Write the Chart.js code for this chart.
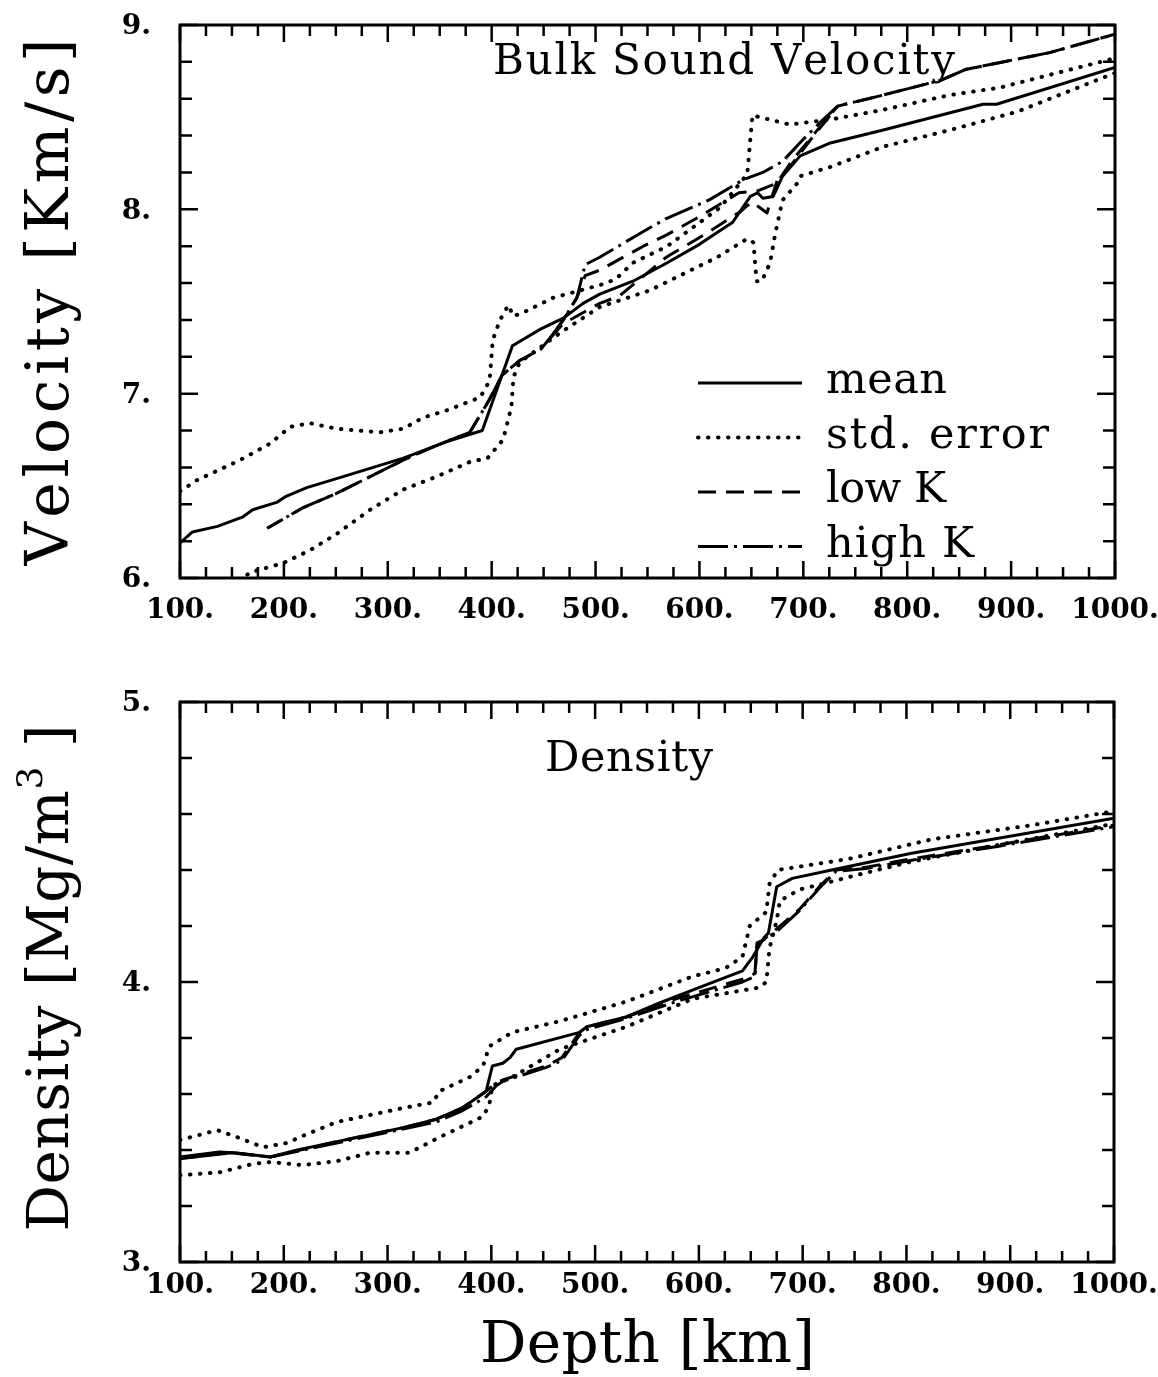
<!DOCTYPE html>
<html>
<head>
<meta charset="utf-8">
<script src="https://cdn.jsdelivr.net/npm/chart.js@4.4.1/dist/chart.umd.min.js"></script>
<style>
  html, body { margin: 0; padding: 0; background: #fff; }
  #page { position: relative; width: 1158px; height: 1377px; background: #fff; }
  .box { position: absolute; left: 0; width: 1158px; }
</style>
</head>
<body>
<div id="page">
  <div class="box" style="top:0;height:650px"><canvas id="velChart"></canvas></div>
  <div class="box" style="top:650px;height:727px"><canvas id="denChart"></canvas></div>
</div>
<script>
// ---- axis ticks ----
const depthTicks = [100, 200, 300, 400, 500, 600, 700, 800, 900, 1000];
const velTicks = [6, 7, 8, 9];
const denTicks = [3, 4, 5];
const depthMinor = 25;
const velMinor = 0.2;
const denMinor = 0.2;

// ---- bulk sound velocity [depth km, Km/s] ----
const velMean = [[100,6.19],[112,6.25],[136,6.28],[160,6.33],[170,6.37],[193,6.41],[201,6.44],[222,6.49],[257,6.55],[286,6.60],[315,6.65],[357,6.74],[391,6.80],[420,7.26],[447,7.35],[469,7.41],[488,7.49],[504,7.54],[536,7.61],[569,7.71],[600,7.81],[632,7.93],[649,8.07],[656,8.09],[661,8.06],[671,8.07],[680,8.18],[697,8.29],[726,8.36],[777,8.43],[873,8.57],[886,8.57],[1000,8.77]];
const velStdHi = [[100,6.47],[116,6.53],[158,6.64],[187,6.73],[206,6.82],[225,6.84],[251,6.81],[292,6.79],[315,6.81],[334,6.87],[357,6.91],[389,6.98],[398,7.07],[401,7.29],[408,7.40],[416,7.48],[421,7.42],[434,7.45],[459,7.52],[511,7.60],[521,7.63],[536,7.71],[569,7.80],[620,8.01],[646,8.19],[651,8.51],[658,8.50],[687,8.46],[729,8.49],[777,8.54],[841,8.62],[889,8.66],[1000,8.82]];
const velStdLo = [[158,5.98],[167,6.03],[199,6.08],[225,6.15],[251,6.24],[283,6.37],[315,6.48],[347,6.55],[379,6.63],[396,6.65],[411,6.75],[419,6.93],[421,7.09],[427,7.17],[466,7.33],[504,7.47],[552,7.56],[617,7.74],[646,7.84],[652,7.82],[655,7.61],[660,7.61],[668,7.71],[673,7.87],[680,8.05],[694,8.14],[697,8.18],[726,8.23],[777,8.34],[841,8.43],[906,8.53],[1000,8.74]];
const velLowK = [[184,6.27],[218,6.38],[251,6.46],[283,6.55],[315,6.64],[347,6.72],[379,6.79],[398,6.97],[410,7.10],[427,7.18],[447,7.24],[456,7.30],[469,7.40],[482,7.52],[490,7.64],[504,7.67],[546,7.80],[568,7.86],[600,7.96],[638,8.09],[656,8.10],[674,8.14],[690,8.27],[712,8.42],[733,8.56],[777,8.62],[832,8.70],[857,8.76],[937,8.85],[1000,8.95]];
const velHighK = [[184,6.27],[218,6.38],[251,6.46],[283,6.55],[315,6.64],[347,6.72],[379,6.79],[398,6.97],[410,7.10],[427,7.18],[447,7.24],[456,7.30],[469,7.40],[482,7.52],[490,7.70],[504,7.74],[546,7.88],[568,7.95],[609,8.05],[642,8.16],[661,8.20],[680,8.26],[700,8.38],[716,8.47],[733,8.56],[777,8.62],[832,8.70],[857,8.76],[937,8.85],[1000,8.95]];
const velLowKb = [[456,7.30],[469,7.38],[504,7.49],[523,7.53],[568,7.74],[607,7.87],[640,7.99],[650,8.04],[658,8.01],[665,7.98],[675,8.16],[687,8.23],[710,8.40],[733,8.56]];

// ---- density [depth km, Mg/m^3] ----
const denMean = [[100,3.375],[138,3.393],[155,3.389],[187,3.375],[213,3.40],[251,3.43],[290,3.46],[315,3.48],[347,3.51],[372,3.55],[395,3.61],[401,3.70],[411,3.71],[418,3.73],[424,3.76],[485,3.82],[492,3.84],[530,3.875],[562,3.925],[600,3.98],[642,4.04],[652,4.09],[663,4.16],[667,4.175],[675,4.34],[690,4.37],[728,4.40],[805,4.46],[1000,4.585]];
const denStdHi = [[100,3.436],[136,3.471],[155,3.446],[180,3.41],[203,3.425],[218,3.45],[251,3.50],[283,3.525],[315,3.55],[344,3.57],[350,3.61],[379,3.66],[392,3.70],[398,3.77],[420,3.82],[466,3.86],[530,3.93],[594,4.02],[626,4.05],[642,4.09],[649,4.20],[665,4.25],[668,4.35],[676,4.40],[745,4.44],[825,4.51],[921,4.56],[1000,4.61]];
const denStdLo = [[100,3.31],[138,3.32],[170,3.35],[187,3.357],[218,3.346],[251,3.36],[283,3.39],[321,3.39],[347,3.44],[392,3.52],[398,3.56],[401,3.63],[420,3.66],[466,3.76],[530,3.84],[594,3.94],[658,3.98],[665,4.00],[668,4.12],[675,4.22],[678,4.29],[697,4.33],[761,4.39],[805,4.43],[889,4.49],[1000,4.565]];
const denLowK = [[100,3.37],[150,3.39],[187,3.375],[251,3.43],[315,3.48],[347,3.51],[372,3.55],[395,3.61],[405,3.64],[411,3.65],[453,3.70],[468,3.73],[485,3.82],[492,3.84],[530,3.875],[578,3.94],[642,4.01],[654,4.03],[656,4.14],[662,4.15],[675,4.19],[697,4.26],[716,4.34],[732,4.40],[761,4.41],[805,4.44],[889,4.49],[1000,4.56]];
const denHighK = [[100,3.37],[150,3.39],[187,3.375],[251,3.425],[315,3.475],[347,3.50],[372,3.54],[395,3.59],[405,3.63],[411,3.645],[453,3.695],[468,3.72],[485,3.81],[492,3.83],[530,3.87],[578,3.93],[642,4.00],[654,4.02],[656,4.13],[662,4.15],[675,4.18],[697,4.255],[716,4.335],[732,4.395],[761,4.405],[805,4.435],[889,4.485],[1000,4.555]];

const INK = '#000';
const SERIF = '"DejaVu Serif", "Liberation Serif", serif';
const NUMFONT = 'bold 28px ' + SERIF;

const LINE = {
  mean:  { borderWidth: 3, borderDash: [], borderCapStyle: 'butt' },
  std:   { borderWidth: 4, borderDash: [0.5, 9.5], borderCapStyle: 'round' },
  lowK:  { borderWidth: 3, borderDash: [18, 10], borderCapStyle: 'butt' },
  highK: { borderWidth: 3, borderDash: [30, 6, 3, 6], borderCapStyle: 'butt' }
};

function ds(label, pts, style) {
  return Object.assign({
    label,
    data: pts.map(p => ({ x: p[0], y: p[1] })),
    borderColor: INK,
    backgroundColor: INK,
    pointRadius: 0,
    tension: 0,
    fill: false,
    borderJoinStyle: 'round'
  }, style);
}

// draw text pieces stretched to a given width (letter spacing); x is the left edge
function spaced(ctx, parts, x, y, width) {
  const glyphs = [];
  parts.forEach(p => {
    [...p.t].forEach(c => {
      ctx.font = p.font;
      glyphs.push({ c, font: p.font, dy: p.dy || 0, w: ctx.measureText(c).width });
    });
  });
  const nat = glyphs.reduce((s, g) => s + g.w, 0);
  const gap = (width - nat) / (glyphs.length - 1);
  let cx = x;
  ctx.textAlign = 'left';
  ctx.textBaseline = 'alphabetic';
  glyphs.forEach(g => {
    ctx.font = g.font;
    ctx.fillText(g.c, cx, y + g.dy);
    cx += g.w + gap;
  });
}

function frameAxes(o) {
  return {
    id: 'frameAxes',
    afterDatasetsDraw(chart) {
      const { ctx, chartArea: a, scales: { x, y } } = chart;
      ctx.save();
      ctx.strokeStyle = INK;
      ctx.fillStyle = INK;

      // inside ticks on all four sides
      ctx.lineWidth = 2.5;
      ctx.beginPath();
      for (let i = 0; x.min + i * o.xStep <= x.max + 1e-6; i++) {
        const v = x.min + i * o.xStep;
        const px = x.getPixelForValue(v);
        const len = o.xLabels.includes(Math.round(v)) ? 17 : 11;
        ctx.moveTo(px, a.bottom); ctx.lineTo(px, a.bottom - len);
        ctx.moveTo(px, a.top); ctx.lineTo(px, a.top + len);
      }
      for (let i = 0; y.min + i * o.yStep <= y.max + 1e-6; i++) {
        const v = y.min + i * o.yStep;
        const py = y.getPixelForValue(v);
        const len = Math.abs(v - Math.round(v)) < 1e-6 ? 18 : 12;
        ctx.moveTo(a.left, py); ctx.lineTo(a.left + len, py);
        ctx.moveTo(a.right, py); ctx.lineTo(a.right - len, py);
      }
      ctx.stroke();

      ctx.lineWidth = 3;
      ctx.strokeRect(a.left, a.top, a.right - a.left, a.bottom - a.top);

      // tick labels
      ctx.font = NUMFONT;
      ctx.textAlign = 'center';
      ctx.textBaseline = 'top';
      o.xLabels.forEach(v => ctx.fillText(v + '.', x.getPixelForValue(v), a.bottom + o.xLabelGap));
      ctx.textAlign = 'right';
      ctx.textBaseline = 'middle';
      o.yLabels.forEach(v => ctx.fillText(v + '.', a.left - 29, y.getPixelForValue(v) + 2));

      // panel title
      spaced(ctx, [{ t: o.title, font: o.titleFont }], o.titleX, o.titleY, o.titleW);

      // y axis title (rotated)
      ctx.save();
      ctx.translate(o.yTitleX, o.yTitleY);
      ctx.rotate(-Math.PI / 2);
      spaced(ctx, o.yTitle, -o.yTitleW / 2, 0, o.yTitleW);
      ctx.restore();

      // x axis title
      if (o.xTitle) {
        spaced(ctx, [{ t: o.xTitle, font: '58px ' + SERIF }], 480, o.xTitleY, 335);
      }

      // legend inside the plot
      if (o.legend) {
        o.legend.forEach((item, i) => {
          const ly = 383 + i * 54.5;
          ctx.lineWidth = item.style.borderWidth;
          ctx.lineCap = item.style.borderCapStyle;
          ctx.setLineDash(item.style.borderDash);
          ctx.beginPath();
          ctx.moveTo(698, ly); ctx.lineTo(802, ly);
          ctx.stroke();
          ctx.setLineDash([]);
          spaced(ctx, [{ t: item.label, font: '43px ' + SERIF }], 826, ly + 10, item.w);
        });
      }
      ctx.restore();
    }
  };
}

function baseOptions(pad, yMin, yMax) {
  return {
    responsive: true,
    maintainAspectRatio: false,
    animation: false,
    layout: { padding: pad },
    plugins: { legend: { display: false }, tooltip: { enabled: false } },
    scales: {
      x: { type: 'linear', min: 100, max: 1000, display: false },
      y: { type: 'linear', min: yMin, max: yMax, display: false }
    }
  };
}

new Chart(document.getElementById('velChart'), {
  type: 'line',
  data: {
    datasets: [
      ds('std. error', velStdHi, LINE.std),
      ds('std. error', velStdLo, LINE.std),
      ds('low K', velLowK, LINE.lowK),
      ds('low K', velLowKb, LINE.lowK),
      ds('high K', velHighK, Object.assign({ borderDashOffset: 14 }, LINE.highK)),
      ds('mean', velMean, LINE.mean)
    ]
  },
  options: baseOptions({ left: 180, right: 43, top: 25, bottom: 72 }, 6, 9),
  plugins: [frameAxes({
    xStep: depthMinor, yStep: velMinor,
    xLabels: depthTicks, yLabels: velTicks, xLabelGap: 19,
    title: 'Bulk Sound Velocity', titleFont: '42px ' + SERIF, titleX: 493, titleY: 74, titleW: 462,
    yTitle: [{ t: 'Velocity [Km/s]', font: '60px ' + SERIF }],
    yTitleX: 68, yTitleY: 302, yTitleW: 527,
    legend: [
      { label: 'mean', style: LINE.mean, w: 121 },
      { label: 'std. error', style: LINE.std, w: 223 },
      { label: 'low K', style: LINE.lowK, w: 120 },
      { label: 'high K', style: LINE.highK, w: 148 }
    ]
  })]
});

new Chart(document.getElementById('denChart'), {
  type: 'line',
  data: {
    datasets: [
      ds('std. error', denStdHi, LINE.std),
      ds('std. error', denStdLo, LINE.std),
      ds('low K', denLowK, LINE.lowK),
      ds('high K', denHighK, LINE.highK),
      ds('mean', denMean, LINE.mean)
    ]
  },
  options: baseOptions({ left: 180, right: 44, top: 52, bottom: 115 }, 3, 5),
  plugins: [frameAxes({
    xStep: depthMinor, yStep: denMinor,
    xLabels: depthTicks, yLabels: denTicks, xLabelGap: 10,
    title: 'Density', titleFont: '43px ' + SERIF, titleX: 545, titleY: 121, titleW: 168,
    yTitle: [
      { t: 'Density [Mg/m', font: '58px ' + SERIF },
      { t: '3', font: '36px ' + SERIF, dy: -26 },
      { t: ' ]', font: '58px ' + SERIF }
    ],
    yTitleX: 68, yTitleY: 328, yTitleW: 507,
    xTitle: 'Depth [km]', xTitleY: 712
  })]
});
</script>
</body>
</html>
